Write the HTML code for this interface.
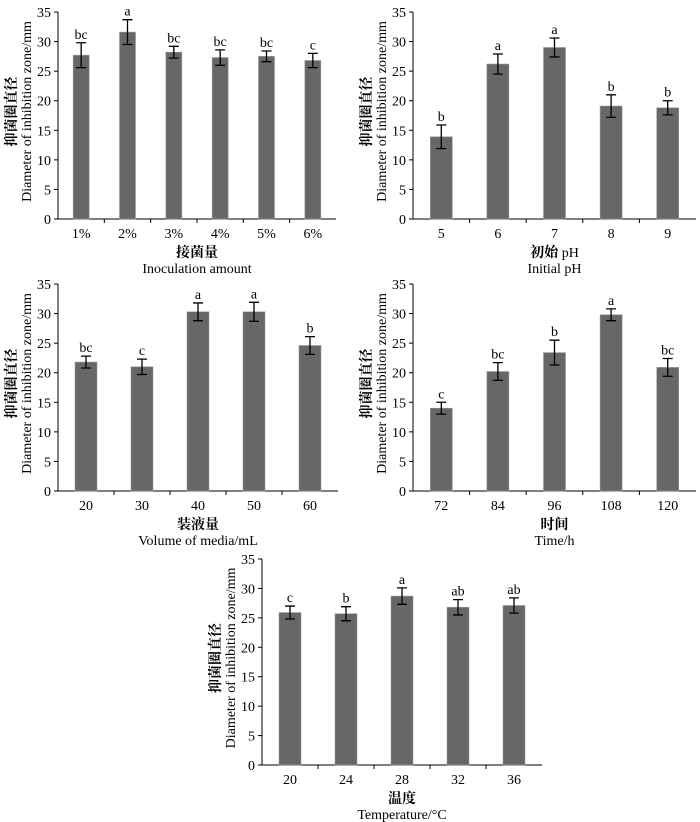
<!DOCTYPE html>
<html><head><meta charset="utf-8">
<style>
body{margin:0;background:#fff;}
svg{display:block;font-family:"Liberation Serif","Noto Serif CJK SC",serif;}
</style></head>
<body>
<svg id="chart" width="700" height="822" viewBox="0 0 700 822"></svg>
<script>
const p1Categories=["1%","2%","3%","4%","5%","6%"];
const p1Values=[27.7,31.6,28.2,27.3,27.5,26.8];
const p1Errors=[2.1,2.1,1.0,1.3,0.9,1.2];
const p1Letters=["bc","a","bc","bc","bc","c"];
const p2Categories=["5","6","7","8","9"];
const p2Values=[13.9,26.2,29.0,19.1,18.8];
const p2Errors=[2.0,1.7,1.6,1.9,1.2];
const p2Letters=["b","a","a","b","b"];
const p3Categories=["20","30","40","50","60"];
const p3Values=[21.8,21.0,30.3,30.3,24.6];
const p3Errors=[1.0,1.3,1.5,1.6,1.5];
const p3Letters=["bc","c","a","a","b"];
const p4Categories=["72","84","96","108","120"];
const p4Values=[14.0,20.2,23.4,29.8,20.9];
const p4Errors=[1.0,1.5,2.1,1.0,1.5];
const p4Letters=["c","bc","b","a","bc"];
const p5Categories=["20","24","28","32","36"];
const p5Values=[25.9,25.7,28.7,26.8,27.1];
const p5Errors=[1.1,1.2,1.4,1.3,1.3];
const p5Letters=["c","b","a","ab","ab"];
const yTicks=[0,5,10,15,20,25,30,35];

const NS="http://www.w3.org/2000/svg";
const svg=document.getElementById('chart');
function mk(tag,attrs,parent,text){const e=document.createElementNS(NS,tag);for(const k in attrs)e.setAttribute(k,attrs[k]);if(text!==undefined)e.textContent=text;parent.appendChild(e);return e;}

function panel(id,x0,x1,yTop,y0,cats,vals,errs,lets,barW,cn,cnSuffix,en){
  const g=mk('g',{},svg);
  
  
  const ys=v=>y0-(v/35)*(y0-yTop);
  const step=(x1-x0)/cats.length;
  const xs=i=>x0+step*(i+0.5);
  const ax=mk('path',{d:`M${x0} ${yTop}V${y0}H${x1}`,stroke:'#000','stroke-width':1,fill:'none'},g);
  
  
  yTicks.forEach(t=>{
    const y=ys(t);
    mk('line',{x1:x0-4,x2:x0,y1:y,y2:y,stroke:'#000'},g);
    const tl=mk('text',{x:x0-7,y:y+5,'text-anchor':'end','font-size':14},g,String(t));
    
    
  });
  for(let i=1;i<cats.length;i++){mk('line',{x1:x0+step*i,x2:x0+step*i,y1:y0,y2:y0+4,stroke:'#000'},g);}
  cats.forEach((c,i)=>{
    const cx=xs(i),v=vals[i],e=errs[i];
    const b=mk('rect',{x:cx-barW/2,y:ys(v),width:barW,height:y0-ys(v),fill:'#676767',stroke:'#999','stroke-width':0.6},g);
    
    
    const eb=mk('path',{d:`M${cx} ${ys(v+e)}V${ys(v-e)}M${cx-5} ${ys(v+e)}H${cx+5}M${cx-5} ${ys(v-e)}H${cx+5}`,stroke:'#000','stroke-width':1.3,fill:'none'},g);
    
    
    const lt=mk('text',{x:cx,y:ys(v+e)-4,'text-anchor':'middle','font-size':14},g,lets[i]);
    
    
    const xl=mk('text',{x:cx,y:y0+19,'text-anchor':'middle','font-size':14},g,c);
    
    
  });
  const mx=(x0+x1)/2;
  const t1=mk('text',{x:mx,y:y0+38,'text-anchor':'middle','font-size':14},g);
  mk('tspan',{'font-weight':'bold'},t1,cn);
  if(cnSuffix) mk('tspan',{},t1,cnSuffix);
  
  
  const t2=mk('text',{x:mx,y:y0+54,'text-anchor':'middle','font-size':14},g,en);
  
  
  const my=(yTop+y0)/2-4;
  const lx=x0-42;
  const y1t=mk('text',{x:0,y:0,'text-anchor':'middle','font-size':14,'font-weight':'bold',transform:`translate(${lx} ${my}) rotate(-90)`},g,'抑菌圈直径');
  
  
  const y2t=mk('text',{x:0,y:0,'text-anchor':'middle','font-size':14,transform:`translate(${lx+15} ${my}) rotate(-90)`},g,'Diameter of inhibition zone/mm');
  
  
}
panel('panel-inoculation',58,336,12,219,p1Categories,p1Values,p1Errors,p1Letters,16,'接菌量','','Inoculation amount');
panel('panel-ph',413,696,12,219,p2Categories,p2Values,p2Errors,p2Letters,22,'初始',' pH','Initial pH');
panel('panel-volume',58,338,284,491,p3Categories,p3Values,p3Errors,p3Letters,22,'装液量','','Volume of media/mL');
panel('panel-time',413,696,284,491,p4Categories,p4Values,p4Errors,p4Letters,22,'时间','','Time/h');
panel('panel-temperature',262,542,559,765,p5Categories,p5Values,p5Errors,p5Letters,22,'温度','','Temperature/°C');
</script>
</body></html>
